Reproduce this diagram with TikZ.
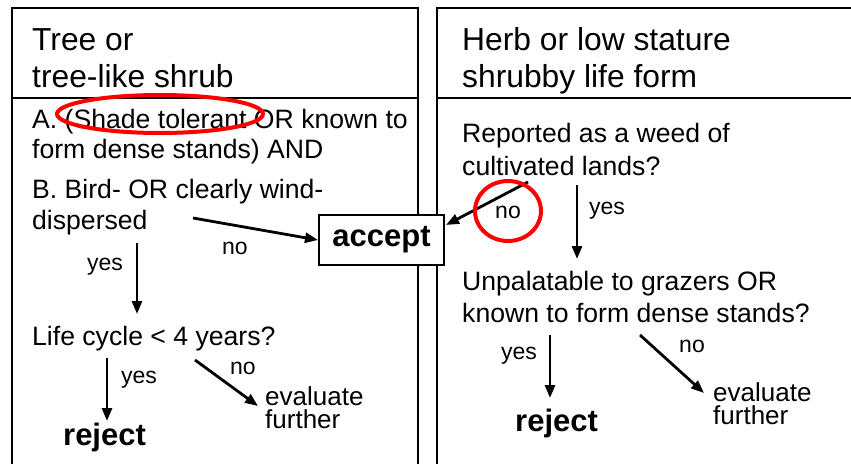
\documentclass[tikz,border=0pt]{standalone}
\usepackage{fontspec}
\setmainfont{Liberation Sans}
\usetikzlibrary{arrows.meta}
\begin{document}
\begin{tikzpicture}[x=1pt,y=-1pt,
  title/.style={anchor=base west, inner sep=0pt, font=\fontsize{31.8}{37}\selectfont},
  body/.style={anchor=base west, inner sep=0pt, font=\fontsize{26.6}{30}\selectfont},
  evl/.style={anchor=north west, align=left, inner sep=0pt, font=\fontsize{26}{23}\selectfont},
  lbl/.style={inner sep=0pt, font=\fontsize{23}{27}\selectfont},
  verdict/.style={anchor=base west, inner sep=0pt, font=\fontsize{31}{37}\selectfont\bfseries},
  arr/.style={line width=2.8pt, -{Triangle[length=13pt,width=10pt]}},
  panel/.style={line width=2pt},
  hl/.style={draw=red, line width=4pt}]
\useasboundingbox (0,0) rectangle (851,463);
% panels
\draw[panel] (12,470) -- (12,8) -- (418,8) -- (418,470);
\draw[panel] (12,98) -- (418,98);
\draw[panel] (437,470) -- (437,8) -- (860,8);
\draw[panel] (437,98) -- (860,98);
% left panel text
\node[title] (t1a) at (32,50) {Tree or};
\node[title] (t1b) at (32,87) {tree-like shrub};
\node[body] (qa1) at (32,128) {A. (Shade tolerant OR known to};
\node[body] (qa2) at (32,158) {form dense stands) AND};
\node[body] (qb1) at (32,198) {B. Bird- OR clearly wind-};
\node[body] (qb2) at (32,229) {dispersed};
\node[body] (life) at (32,345) {Life cycle < 4 years?};
\node[verdict] (rejL) at (63,445) {reject};
\node[evl] (evL) at (265,386) {evaluate\\further};
% accept box
\node[draw, line width=2pt, fill=white, minimum width=125pt, minimum height=50pt, inner sep=0pt,
      font=\fontsize{31}{37}\selectfont\bfseries] (accept) at (381.5,240) {accept};
% right panel text
\node[title] (t2a) at (462,50) {Herb or low stature};
\node[title] (t2b) at (462,87) {shrubby life form};
\node[body] (qc1) at (462,142) {Reported as a weed of};
\node[body] (qc2) at (462,175) {cultivated lands?};
\node[body] (qd1) at (462,290) {Unpalatable to grazers OR};
\node[body] (qd2) at (462,322) {known to form dense stands?};
\node[verdict] (rejR) at (515,431) {reject};
\node[evl] (evR) at (713,382) {evaluate\\further};
% labels
\node[lbl] (noA) at (235,248) {no};
\node[lbl] (yesB) at (105,267) {yes};
\node[lbl] (yesL) at (139,380) {yes};
\node[lbl] (noL) at (243,368) {no};
\node[lbl] (noC) at (508,212) {no};
\node[lbl] (yesC) at (607,211) {yes};
\node[lbl] (yesD) at (519,356) {yes};
\node[lbl] (noD) at (692,346) {no};
% connector end points
\coordinate (sA) at (193,218);
\coordinate (sB) at (137,243);
\coordinate (eB) at (137,314);
\coordinate (sL1) at (107,358);
\coordinate (eL1) at (107,421);
\coordinate (sL2) at (195,360);
\coordinate (eL2) at (258,406);
\coordinate (sC) at (528,182);
\coordinate (eC) at (446,225);
\coordinate (sY) at (577,185);
\coordinate (eY) at (577,259);
\coordinate (sD1) at (550,335);
\coordinate (eD1) at (550,398);
\coordinate (sD2) at (640,335);
\coordinate (eD2) at (704,393);
% connectors
\draw[arr] (sA) -- (accept.west);
\draw[arr] (sB) -- (eB);
\draw[arr] (sL1) -- (eL1);
\draw[arr] (sL2) -- (eL2);
\draw[arr] (sC) -- (eC);
\draw[arr] (sY) -- (eY);
\draw[arr] (sD1) -- (eD1);
\draw[arr] (sD2) -- (eD2);
% highlights
\draw[hl] (160,114) ellipse [x radius=103pt, y radius=19pt];
\draw[hl] (508,211) ellipse [x radius=33pt, y radius=30pt];
\end{tikzpicture}
\end{document}
